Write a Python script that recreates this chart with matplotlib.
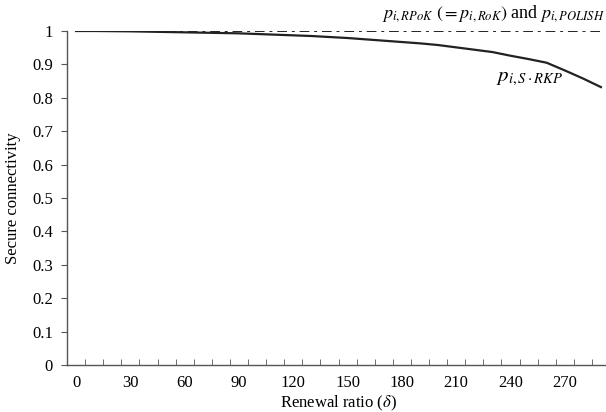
import numpy as np
import matplotlib
matplotlib.use("Agg")
import matplotlib.pyplot as plt

plt.rcParams['font.family'] = ['Liberation Serif', 'DejaVu Serif']
plt.rcParams['mathtext.fontset'] = 'stix'

# renewal ratio categories (delta)
delta = list(range(0, 300, 10))
# secure connectivity of S-RKP
p_srkp = [1.000, 1.000, 0.9995, 0.999, 0.998, 0.997, 0.996, 0.995, 0.994, 0.993,
          0.991, 0.989, 0.987, 0.985, 0.982, 0.979, 0.975, 0.971, 0.967, 0.963,
          0.958, 0.951, 0.944, 0.937, 0.926, 0.916, 0.905, 0.882, 0.858, 0.832]
# RPoK / RoK / POLISH stay at 1
p_rpok = [1.0] * len(delta)

xtick_vals = list(range(0, 271, 30))
ytick_vals = [0, 0.1, 0.2, 0.3, 0.4, 0.5, 0.6, 0.7, 0.8, 0.9, 1]
ytick_labels = ['0', '0.1', '0.2', '0.3', '0.4', '0.5', '0.6', '0.7', '0.8', '0.9', '1']

fig = plt.figure(figsize=(6.06, 4.12), dpi=100)
ax = fig.add_axes([67 / 606, 47 / 412, 543 / 606, 334 / 412])

ax.plot(delta, p_rpok, color='#222222', lw=1.4, linestyle=(0, (5, 2.5, 1.5, 2.5)))
ax.plot(delta, p_srkp, color='#222222', lw=1.6)

ax.set_xlim(-5, 295)
ax.set_ylim(0, 1)

ax.spines['top'].set_visible(False)
ax.spines['right'].set_visible(False)
for s in ['left', 'bottom']:
    ax.spines[s].set_color('#555555')
    ax.spines[s].set_linewidth(1.0)

ax.set_xticks(xtick_vals)
ax.set_xticklabels([str(v) for v in xtick_vals])
ax.set_xticks(np.arange(5, 295, 10), minor=True)
ax.tick_params(axis='x', which='major', length=0, pad=7, labelsize=12)
ax.tick_params(axis='x', which='minor', direction='in', length=4, color='#555555')

ax.set_yticks(ytick_vals)
ax.set_yticklabels(ytick_labels)
ax.tick_params(axis='y', direction='out', length=4, color='#555555', labelsize=12, pad=6)

ax.set_xlabel('Renewal ratio ($\\delta$)', fontsize=12, labelpad=2)
ax.set_ylabel('Secure connectivity', fontsize=12, labelpad=8)

fig.text(0.999, 0.968,
         r'$p_{i,RPoK}\ (=p_{i,RoK})$' + ' and ' + r'$p_{i,POLISH}$',
         ha='right', va='center', fontsize=13)
ax.text(232, 0.858, r'$p_{i,S\cdot RKP}$', fontsize=15, ha='left', va='center')

fig.savefig('out.png', dpi=100)
